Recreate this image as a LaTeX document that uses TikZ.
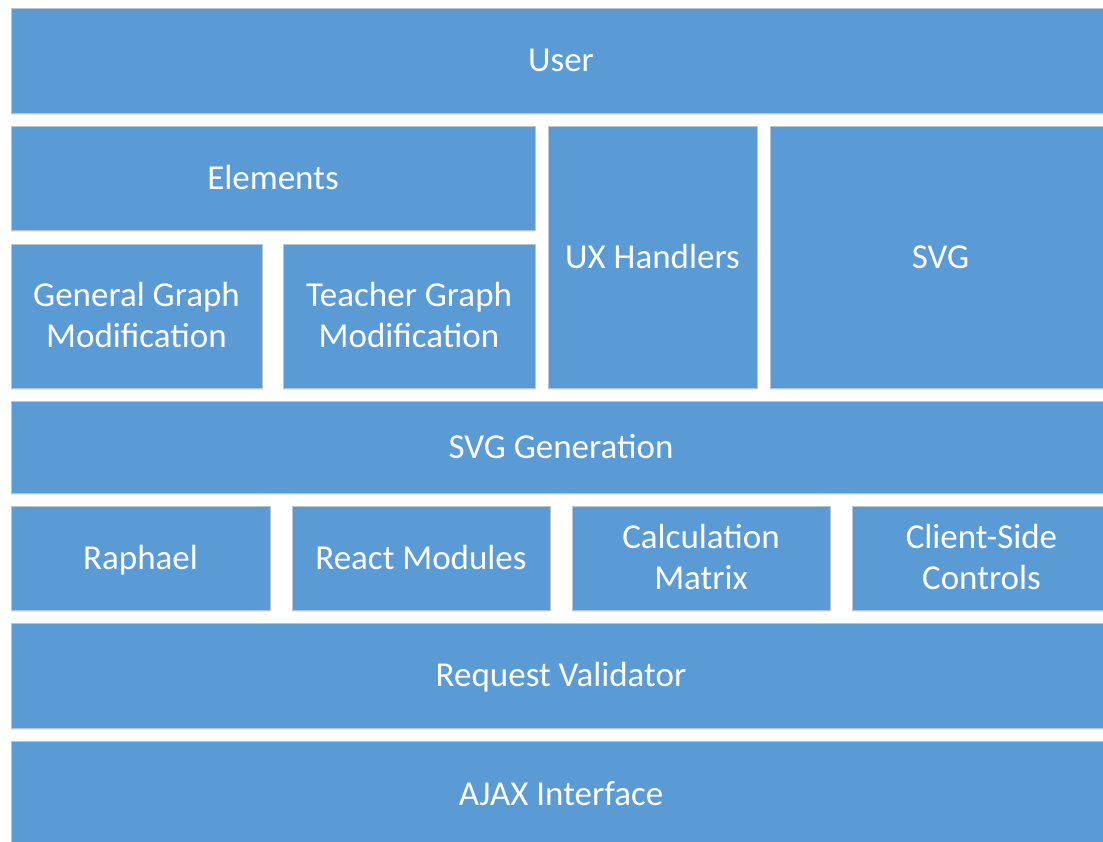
\documentclass[tikz,border=0pt]{standalone}
\usepackage{fontspec}
\setmainfont{Carlito}
\usetikzlibrary{shadows}
\definecolor{boxblue}{HTML}{5B9BD5}
\definecolor{boxedge}{HTML}{BCC4CC}
\tikzset{
  blk/.style={draw=boxedge, line width=0.8pt, fill=boxblue,
    drop shadow={shadow xshift=0pt, shadow yshift=-2pt, opacity=0.18, fill=gray}},
  blklabel/.style={text=white, font=\fontsize{35}{41}\selectfont, align=center,
    inner sep=0pt, text height=22.5pt, text depth=0pt},
  twoline/.style={text height=63.5pt, text depth=0pt},
}
\newcommand{\blkbox}[7][]{% opts, name, x1, y1, x2, y2, text
  \path[blk] (#3pt,-#4pt) rectangle (#5pt,-#6pt);
  \node[blklabel,#1] (#2) at ({(#3+#5)/2*1pt},{-(#4+#6)/2*1pt}) {#7};
}
\begin{document}
\begin{tikzpicture}[x=1pt,y=1pt]
\useasboundingbox (0,0) rectangle (1103,-842);
\clip (0,0) rectangle (1103,-842);
\fill[white] (0,0) rectangle (1103,-842);
\blkbox{user}{11}{8}{1111}{113}{User}
\blkbox{elements}{11}{126}{535}{230}{Elements}
\blkbox{ux}{548}{126}{757}{388}{UX Handlers}
\blkbox{svg}{770}{126}{1111}{388}{SVG}
\blkbox[twoline]{general}{11}{244}{262}{388}{General Graph\\Modification}
\blkbox[twoline]{teacher}{283}{244}{535}{388}{Teacher Graph\\Modification}
\blkbox{svggen}{11}{401}{1111}{493}{SVG Generation}
\blkbox{raphael}{11}{506}{270}{610}{Raphael}
\blkbox{react}{292}{506}{550}{610}{React Modules}
\blkbox[twoline]{calc}{572}{506}{830}{610}{Calculation\\Matrix}
\blkbox[twoline]{client}{852}{506}{1111}{610}{Client-Side\\Controls}
\blkbox{request}{11}{623}{1111}{728}{Request Validator}
\blkbox{ajax}{11}{741}{1111}{847}{AJAX Interface}
\end{tikzpicture}
\end{document}
